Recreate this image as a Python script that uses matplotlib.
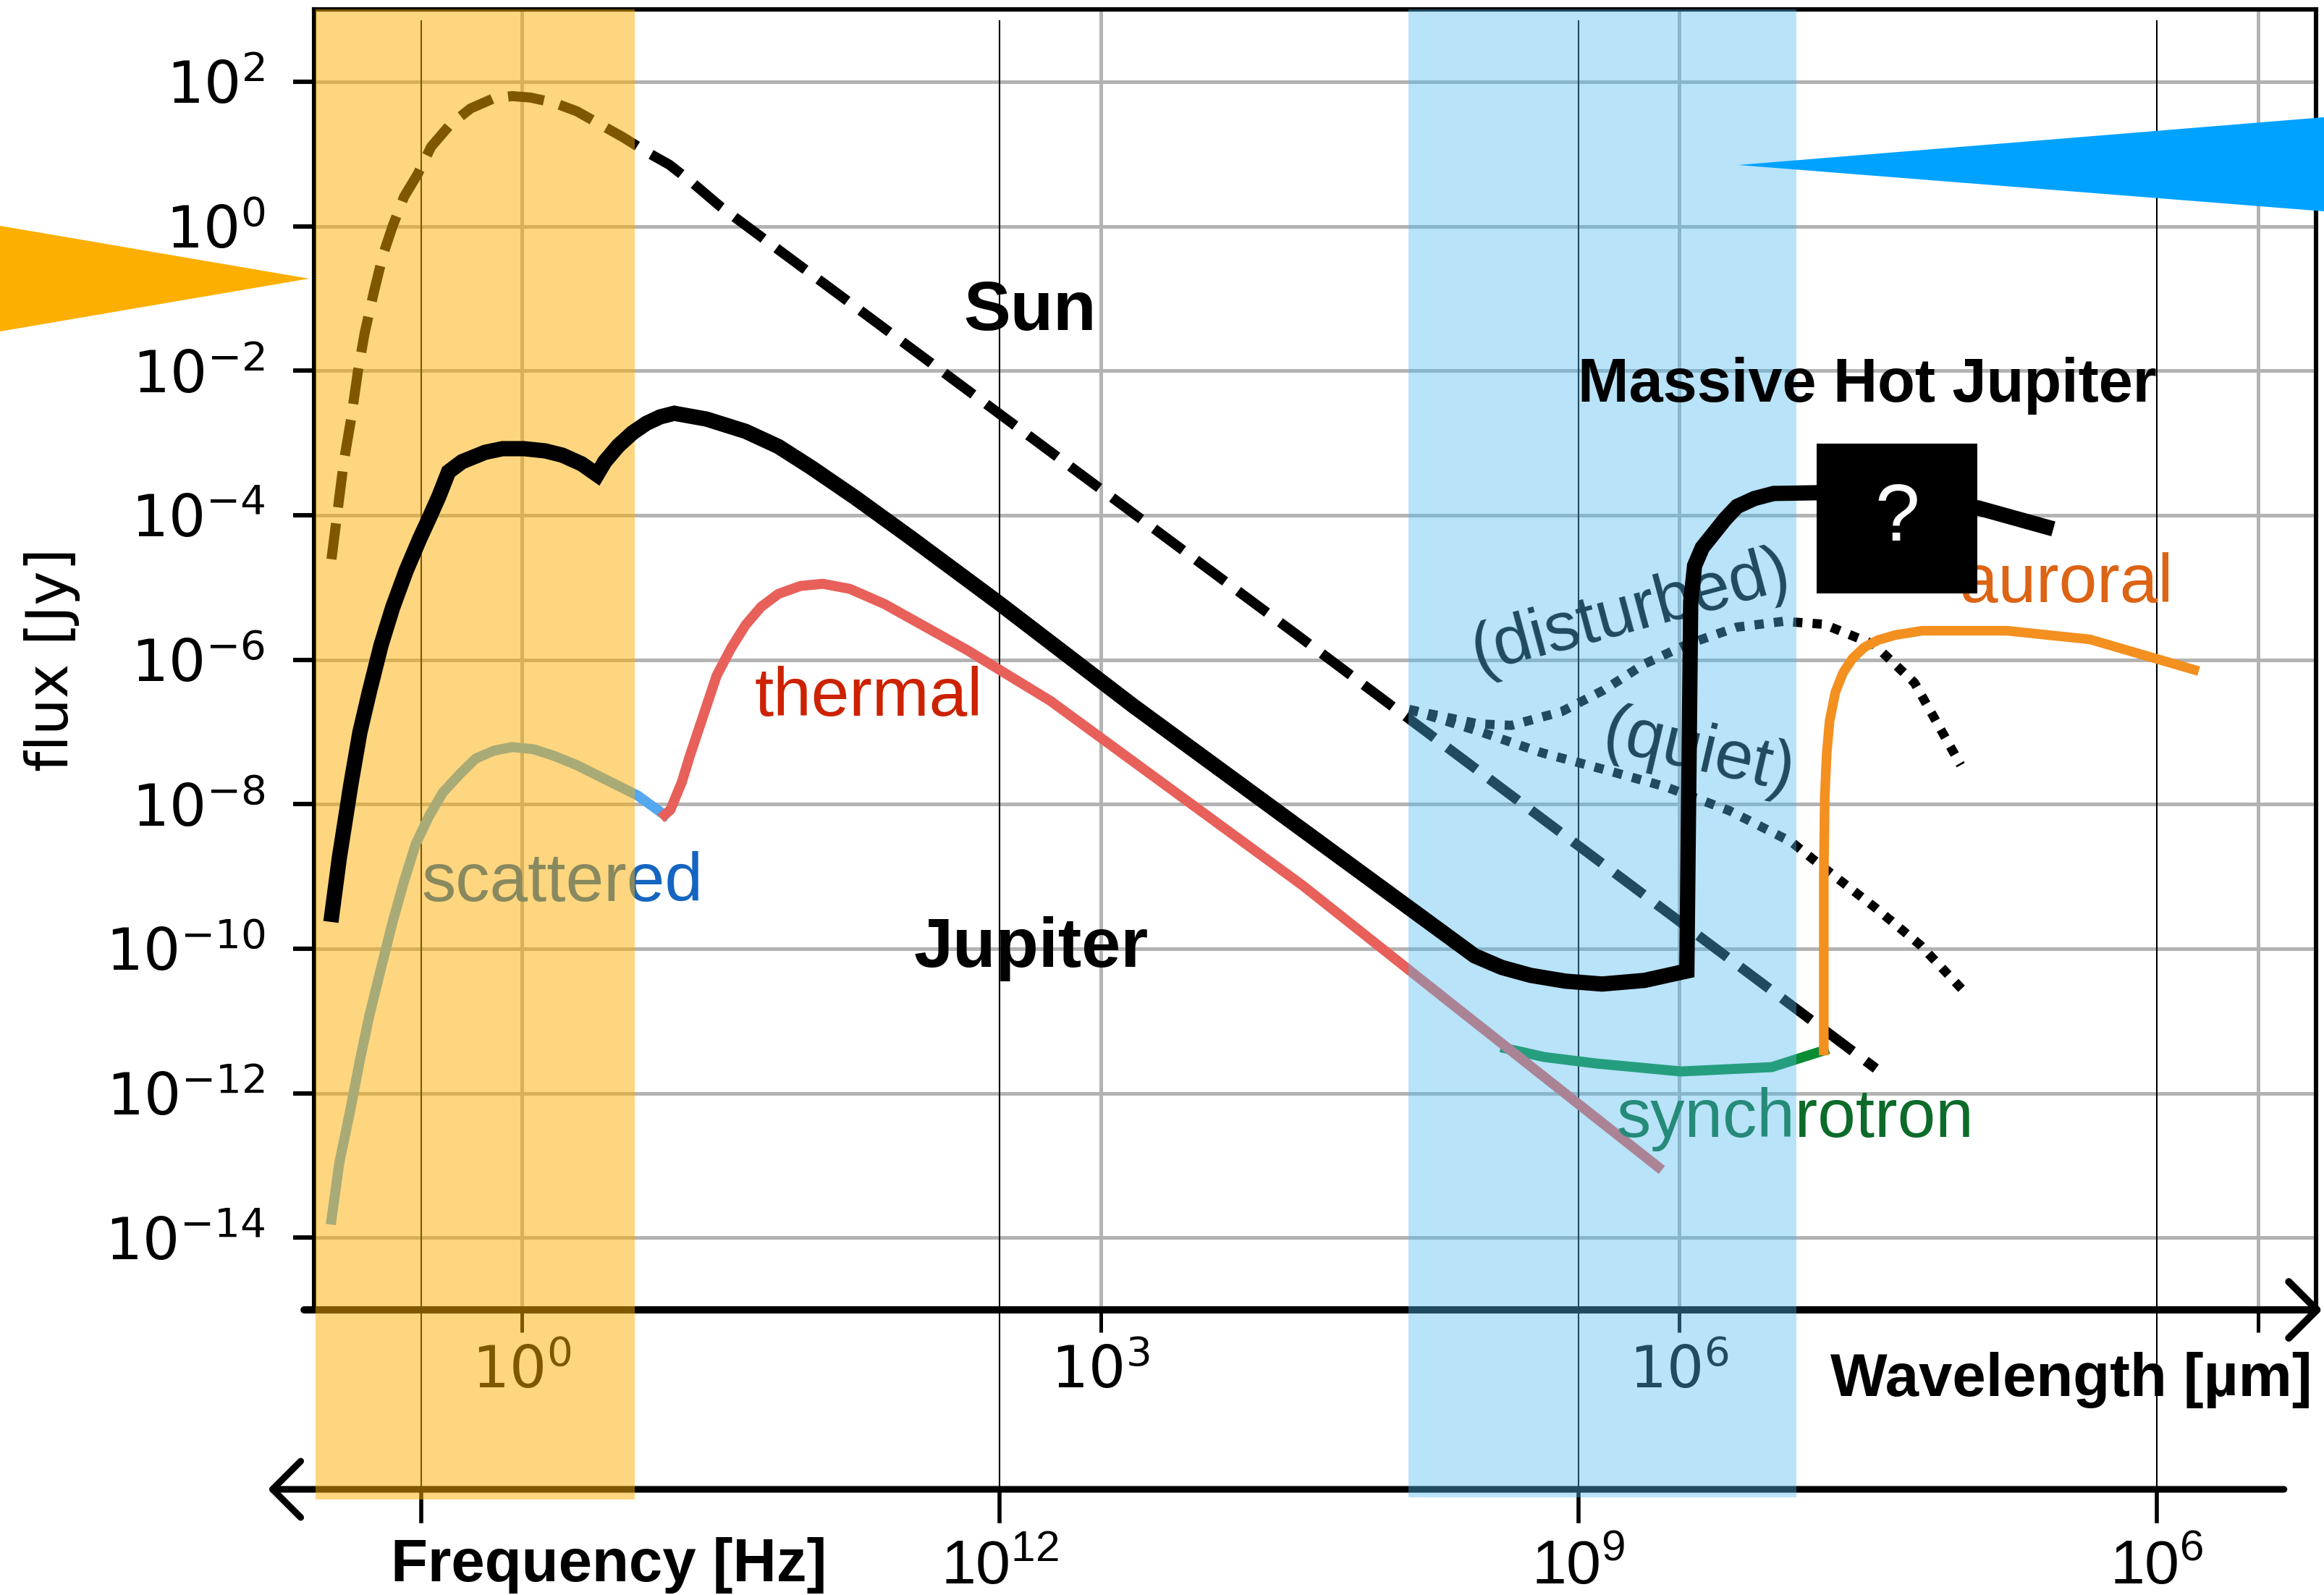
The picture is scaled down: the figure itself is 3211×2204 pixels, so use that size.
import numpy as np
import matplotlib.pyplot as plt
from matplotlib.patches import Rectangle, Polygon
from matplotlib.transforms import blended_transform_factory

C_UM = 2.998e14  # speed of light in um/s, converts Hz -> um

# curves: log10 wavelength [um], log10 flux [Jy]
sun_lw = [-0.987, -0.923, -0.886, -0.85, -0.815, -0.766, -0.72, -0.67, -0.61, -0.54, -0.47, -0.37, -0.265,
          -0.145, -0.05, 0.045, 0.165, 0.285, 0.405, 0.525, 0.645, 0.765, 0.885, 1.03, 4.0, 7.02]
sun_lf = [-4.61, -3.26, -2.68, -2.01, -1.48, -0.90, -0.40, 0.0, 0.41, 0.72, 1.10, 1.41, 1.63,
          1.77, 1.80, 1.78, 1.71, 1.59, 1.41, 1.23, 1.03, 0.85, 0.60, 0.27, -5.62, -11.66]

jup_lw = [-0.99, -0.946, -0.886, -0.84, -0.79, -0.73, -0.67, -0.60, -0.53, -0.48, -0.43, -0.38,
          -0.31, -0.19, -0.10, 0.01, 0.12, 0.21, 0.31, 0.39,
          0.43, 0.50, 0.574, 0.645, 0.717, 0.79, 0.957, 1.16, 1.33, 1.50, 1.73, 2.02, 2.48, 3.17,
          4.94, 5.08, 5.23, 5.41, 5.60, 5.82, 6.04,
          6.06, 6.08, 6.12, 6.18, 6.24, 6.30, 6.39, 6.49, 6.71, 7.55, 7.94]
jup_lf = [-9.63, -8.74, -7.72, -7.01, -6.44, -5.80, -5.28, -4.77, -4.33, -4.04, -3.74, -3.40,
          -3.26, -3.13, -3.08, -3.08, -3.11, -3.17, -3.29, -3.44,
          -3.26, -3.04, -2.86, -2.73, -2.64, -2.59, -2.67, -2.84, -3.05, -3.34, -3.76, -4.32, -5.23, -6.64,
          -10.10, -10.26, -10.37, -10.45, -10.49, -10.44, -10.31,
          -5.2, -4.7, -4.45, -4.25, -4.05, -3.88, -3.77, -3.70, -3.69, -3.90, -4.19]

scat_lw = [-0.987, -0.946, -0.886, -0.84, -0.79, -0.73, -0.67, -0.61, -0.55, -0.48, -0.41, -0.32, -0.24,
           -0.145, -0.05, 0.06, 0.165, 0.285, 0.405, 0.60, 0.74]
scat_lf = [-13.75, -12.96, -12.19, -11.55, -10.92, -10.27, -9.63, -9.06, -8.55, -8.16, -7.84, -7.58, -7.37,
           -7.26, -7.21, -7.24, -7.33, -7.46, -7.62, -7.88, -8.15]

therm_lw = [0.74, 0.77, 0.83, 0.87, 0.94, 1.01, 1.085, 1.16, 1.24, 1.33, 1.445, 1.56, 1.70, 1.88, 2.075,
            2.31, 2.74, 4.05, 4.80, 5.89]
therm_lf = [-8.15, -8.08, -7.69, -7.34, -6.78, -6.22, -5.84, -5.52, -5.27, -5.09, -4.98, -4.95, -5.02, -5.23,
            -5.52, -5.87, -6.57, -9.13, -10.72, -13.02]

sync_lw = [5.10, 5.30, 5.57, 6.01, 6.48, 6.75]
sync_lf = [-11.38, -11.50, -11.59, -11.70, -11.64, -11.41]

aur_lw = [6.75, 6.75, 6.755, 6.765, 6.78, 6.81, 6.85, 6.90, 6.96, 7.03, 7.12, 7.26, 7.70, 8.13, 8.67]
aur_lf = [-11.41, -9.0, -7.9, -7.3, -6.85, -6.45, -6.18, -5.98, -5.83, -5.73, -5.66, -5.60, -5.60, -5.72, -6.14]

dist_lw = [4.60, 4.96, 5.13, 5.39, 5.61, 5.82, 6.04, 6.30, 6.54, 6.75, 7.01, 7.22, 7.46]
dist_lf = [-6.69, -6.89, -6.91, -6.72, -6.42, -6.06, -5.79, -5.55, -5.47, -5.51, -5.79, -6.32, -7.46]

quiet_lw = [4.60, 4.96, 5.29, 5.61, 5.93, 6.26, 6.58, 6.74, 7.02, 7.25, 7.48]
quiet_lf = [-6.69, -6.99, -7.29, -7.52, -7.76, -8.09, -8.52, -8.86, -9.44, -9.95, -10.60]

# shaded wavelength windows [um]
optical_band = [0.0853, 3.85]
radio_band = [3.95e4, 4.06e6]

wl_ticks = [1e0, 1e3, 1e6, 1e9]
wl_labels = [r'$\mathdefault{10^{0}}$', r'$\mathdefault{10^{3}}$', r'$\mathdefault{10^{6}}$', '']
flux_ticks = [10.0 ** k for k in range(-14, 3, 2)]
freq_ticks = [1e15, 1e12, 1e9, 1e6]
freq_labels = ['', r'$\mathregular{10^{12}}$', r'$\mathregular{10^{9}}$', r'$\mathregular{10^{6}}$']


def xy(lw, lf):
    return 10 ** np.array(lw), 10 ** np.array(lf)


W, H = 3211, 2204
fig = plt.figure(figsize=(W / 200, H / 200), dpi=200)
rect = [434 / W, 1 - 1810 / H, 2766 / W, 1797 / H]
ax = fig.add_axes(rect)
ax.set_xscale('log')
ax.set_yscale('log')
xlim = (10 ** -1.077, 10 ** 9.302)
ylim = (1e-15, 1e3)
ax.set_xlim(xlim)
ax.set_ylim(ylim)
ax.set_xticks(wl_ticks)
ax.set_xticklabels(wl_labels)
ax.set_yticks(flux_ticks)
ax.minorticks_off()
ax.grid(True, color='#b3b3b3', lw=1.8)
ax.set_axisbelow(True)
for s in ['left', 'top', 'right']:
    ax.spines[s].set_linewidth(2.2)
ax.spines['bottom'].set_visible(False)
ax.tick_params(axis='y', length=10.5, width=2.2, labelsize=29, pad=14)
ax.tick_params(axis='x', length=11, width=1.8, labelsize=29, pad=6)
fig.text(72 / W, 1 - 911 / H, 'flux [Jy]', rotation=90, ha='center', va='center', fontsize=29)

trans = blended_transform_factory(ax.transData, ax.transAxes)
sans = ['Liberation Sans', 'DejaVu Sans']
arrow_style = '->,head_length=0.35,head_width=0.35'

# frequency axis
for nu, lab in zip(freq_ticks, freq_labels):
    x = C_UM / nu
    ax.plot([x, x], [0.991, -0.138], transform=trans, color='k', lw=0.75, clip_on=False, zorder=1.5)
    ax.plot([x, x], [-0.138, -0.1625], transform=trans, color='k', lw=2.0, clip_on=False, zorder=1.5)
    ax.text(x, -0.211, lab, transform=trans, ha='center', va='baseline', fontsize=31, family=sans)
ax.annotate('', xy=(-0.0231, -0.138), xytext=(0.984, -0.138), xycoords='axes fraction',
            arrowprops=dict(arrowstyle=arrow_style, lw=3.3, color='k',
                            mutation_scale=40, shrinkA=0, shrinkB=0), annotation_clip=False)
ax.annotate('', xy=(1.003, 0), xytext=(-0.005, 0), xycoords='axes fraction',
            arrowprops=dict(arrowstyle=arrow_style, lw=3.6, color='k',
                            mutation_scale=40, shrinkA=0, shrinkB=0), annotation_clip=False)
ax.text(0.0383, -0.2087, 'Frequency [Hz]', transform=ax.transAxes, fontsize=30, weight='bold',
        family=sans, ha='left', va='baseline')
ax.text(0.7574, -0.0662, 'Wavelength [µm]', transform=ax.transAxes, fontsize=30, weight='bold',
        family=sans, ha='left', va='baseline')

# curves under the shaded windows
ax.plot(*xy(sun_lw, sun_lf), color='k', lw=5.0, dashes=(3.6, 1.6), dash_capstyle='butt', zorder=2)
ax.plot(*xy(dist_lw, dist_lf), color='k', lw=4.6, dashes=(1, 1.1), dash_capstyle='butt', zorder=2)
ax.plot(*xy(quiet_lw, quiet_lf), color='k', lw=4.6, dashes=(1, 1.1), dash_capstyle='butt', zorder=2)
ax.plot(*xy(scat_lw, scat_lf), color='#55a8f0', lw=5.0, zorder=2.2)
ax.plot(*xy(therm_lw, therm_lf), color='#e8605a', lw=5.0, zorder=2.3)
ax.plot(*xy(sync_lw, sync_lf), color='#0a8c34', lw=5.0, zorder=2.2)
ax.plot(*xy(aur_lw, aur_lf), color='#f39020', lw=4.8, zorder=2.2)

lab = dict(fontsize=34, family=sans, zorder=4)
ax.text(10 ** 1.797, 10 ** -6.78, 'thermal', color='#cc2200', ha='center', va='baseline', **lab)
ax.text(10 ** 0.21, 10 ** -9.34, 'scattered', color='#1565c0', ha='center', va='baseline', **lab)
ax.text(10 ** 6.60, 10 ** -12.61, 'synchrotron', color='#0d6b2a', ha='center', va='baseline', **lab)
ax.text(10 ** 8.01, 10 ** -5.20, 'auroral', color='#dc6414', ha='center', va='baseline', **lab)
ax.text(10 ** 5.75, 10 ** -5.35, '(disturbed)', color='k', ha='center', va='center',
        rotation=15, rotation_mode='anchor', **lab)
ax.text(10 ** 6.10, 10 ** -7.29, '(quiet)', color='k', ha='center', va='center',
        rotation=-13, rotation_mode='anchor', **lab)

# overlay: shaded windows, Jupiter curve and bold labels on top
ov = fig.add_axes(rect, sharex=ax, sharey=ax)
ov.patch.set_visible(False)
ov.axis('off')
otrans = blended_transform_factory(ov.transData, ov.transAxes)
ov.add_patch(Rectangle((optical_band[0], -0.1458), optical_band[1] - optical_band[0], 1.1458,
                       transform=otrans, facecolor=(254 / 255, 174 / 255, 0), alpha=0.5, lw=0,
                       clip_on=False, zorder=1))
ov.add_patch(Rectangle((radio_band[0], -0.144), radio_band[1] - radio_band[0], 1.144,
                       transform=otrans, facecolor=(78 / 255, 187 / 255, 240 / 255), alpha=0.4, lw=0,
                       clip_on=False, zorder=1))
ov.plot(*xy(jup_lw, jup_lf), color='k', lw=7.6, solid_joinstyle='miter', solid_capstyle='butt', zorder=2)
ov.add_patch(Rectangle((10 ** 6.713, 10 ** -5.08), 10 ** 7.546 - 10 ** 6.713, 10 ** -3.01 - 10 ** -5.08,
                       facecolor='k', lw=0, zorder=3))
ov.text(10 ** 7.13, 10 ** -4.06, '?', color='white', fontsize=40, family=sans,
        ha='center', va='center', zorder=4)
bold = dict(weight='bold', family=sans, color='k', ha='center', va='baseline', zorder=4)
ov.text(10 ** 2.634, 10 ** -1.44, 'Sun', fontsize=35, **bold)
ov.text(10 ** 2.64, 10 ** -10.25, 'Jupiter', fontsize=35, **bold)
ov.text(10 ** 6.975, 10 ** -2.43, 'Massive Hot Jupiter', fontsize=30.5, **bold)
ov.set_xlim(xlim)
ov.set_ylim(ylim)

# pointer triangles at the figure edges
fig.patches.append(Polygon([(0, 1 - 312 / H), (0, 1 - 458 / H), (427 / W, 1 - 385 / H)],
                           closed=True, transform=fig.transFigure, facecolor='#fcaf00', lw=0))
fig.patches.append(Polygon([(2402 / W, 1 - 228 / H), (1.0, 1 - 162 / H), (1.0, 1 - 292 / H)],
                           closed=True, transform=fig.transFigure, facecolor='#00a2ff', lw=0))

fig.savefig('out.png', dpi=200)
